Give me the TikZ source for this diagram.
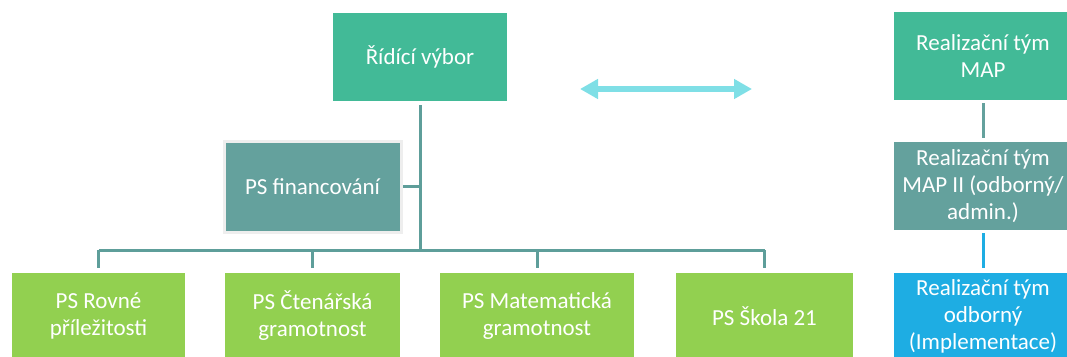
\documentclass[tikz,border=0pt]{standalone}
\usepackage{fontspec}
\setmainfont{Carlito}
\usetikzlibrary{arrows.meta}
\definecolor{cTop}{RGB}{66,186,151}
\definecolor{cFin}{RGB}{100,161,157}
\definecolor{cGreen}{RGB}{146,208,80}
\definecolor{cBlue}{RGB}{30,173,227}
\definecolor{cArrow}{RGB}{127,223,230}
\definecolor{cLine}{RGB}{94,158,154}
\definecolor{cBorder}{RGB}{238,238,238}
\tikzset{
  box/.style={rectangle, inner sep=0pt, outer sep=0pt, align=center, text=white,
    font=\fontsize{23}{27}\selectfont, minimum height=88pt},
  conn/.style={draw=cLine, line width=3pt},
}
\begin{document}
\begin{tikzpicture}[x=1pt,y=1pt]
\useasboundingbox (0,0) rectangle (1067,-356);
\clip (0,0) rectangle (1067,-356);
% nodes
\node[box, fill=cTop, minimum width=174pt] (rv) at (420,-57) {Řídící výbor};
\node[box, fill=cFin, draw=cBorder, line width=3pt, minimum width=177pt, minimum height=91pt] (pf) at (312.5,-186.5) {PS financování};
\node[box, fill=cGreen, minimum width=173pt, minimum height=86pt] (rov) at (98.5,-316) {PS Rovné\\příležitosti};
\node[box, fill=cGreen, minimum width=175pt, minimum height=86pt] (cte) at (312.5,-316) {PS Čtenářská\\gramotnost};
\node[box, fill=cGreen, minimum width=194pt, minimum height=86pt] (mat) at (537,-316) {PS Matematická\\gramotnost};
\node[box, fill=cGreen, minimum width=177pt, minimum height=86pt] (sko) at (764.5,-316) {PS Škola 21};
\node[box, fill=cTop, minimum width=178pt] (map) at (983,-56) {Realizační tým\\MAP};
\node[box, fill=cFin, minimum width=178pt] (map2) at (983,-186) {Realizační tým\\MAP II (odborný/\\admin.)};
\node[box, fill=cBlue, minimum width=178pt, minimum height=86pt] (odb) at (983,-316) {Realizační tým\\odborný\\(Implementace)};
% bus coordinates
\coordinate (bus) at (420,-250);
\coordinate (busL) at (98.5,-250);
\coordinate (busR) at (764.5,-250);
% connectors
\draw[conn, shorten <=4pt] (rv.south) -- (bus);
\draw[conn] (busL) -- (busR);
\draw[conn, shorten >=5pt] (busL) -- (rov.north);
\draw[conn, shorten >=5pt] (cte.north |- bus) -- (cte.north);
\draw[conn, shorten >=5pt] (mat.north |- bus) -- (mat.north);
\draw[conn, shorten >=5pt] (busR) -- (sko.north);
\draw[conn, shorten <=2pt] (pf.east) -- (pf.east -| bus);
\draw[draw=cFin, line width=3pt, shorten <=3pt, shorten >=4pt] (map.south) -- (map2.north);
\draw[draw=cBlue, line width=3pt, shorten <=3pt, shorten >=5pt] (map2.south) -- (odb.north);
% double arrow
\coordinate (al) at (580,-89);
\coordinate (ar) at (752,-89);
\draw[cArrow, line width=6pt, {Triangle[width=19pt,length=18pt]}-{Triangle[width=19pt,length=18pt]}] (al) -- (ar);
\end{tikzpicture}
\end{document}
